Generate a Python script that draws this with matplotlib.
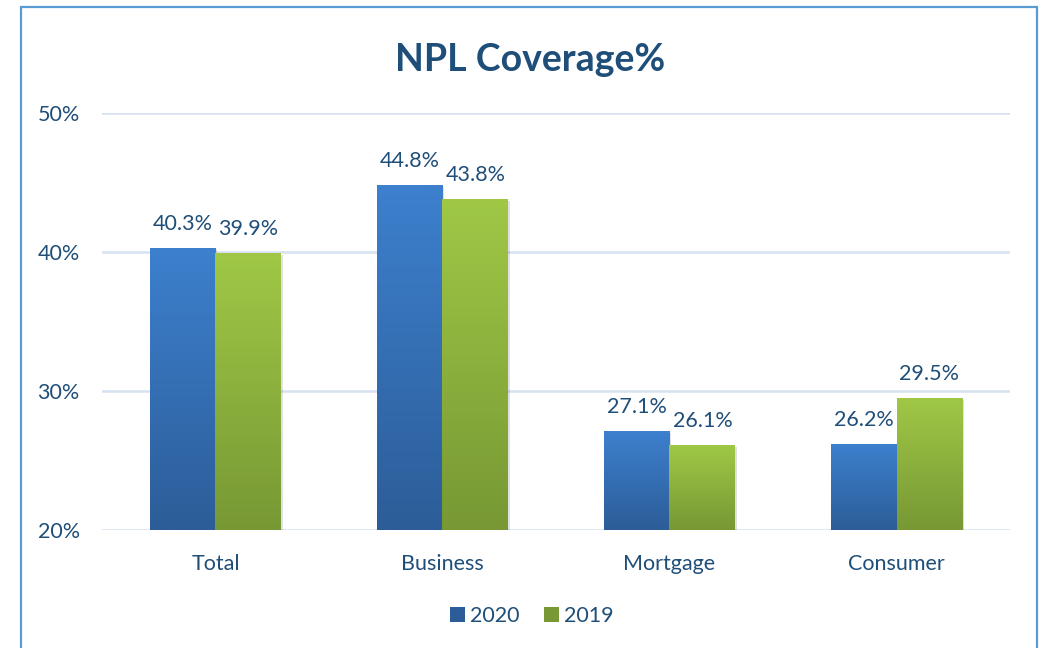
import matplotlib
matplotlib.use("Agg")
import matplotlib.pyplot as plt
import numpy as np
from matplotlib.colors import LinearSegmentedColormap
from matplotlib.patches import Rectangle, Patch

# ───────────────────────── data ───────────────────────── #
categories = ["Total", "Business", "Mortgage", "Consumer"]
series_names = ["2020", "2019"]
values_2020 = [40.3, 44.8, 27.1, 26.2]
values_2019 = [39.9, 43.8, 26.1, 29.5]
y_ticks = [20, 30, 40, 50]

TEXT = "#1F4E79"
GRID = "#D6E1F1"
BLUE_TOP, BLUE_BOT = "#3D80CE", "#2C5D98"
GREEN_TOP, GREEN_BOT = "#A0C846", "#779834"

plt.rcParams["font.family"] = ["Lato", "DejaVu Sans"]

fig = plt.figure(figsize=(10.51, 6.48), dpi=100)
ax = fig.add_axes([0.097, 0.182, 0.864, 0.644])

# outer frame (bottom edge is cut off in the reference)
fig.patches.append(Rectangle((21 / 1051, -0.05), (1037 - 21) / 1051, 1.05 - 7 / 648,
                             transform=fig.transFigure, fill=False,
                             edgecolor="#5B9BD5", linewidth=1.6))

x = np.arange(len(categories))
w = 0.29


def gradient_bars(bars, top, bot):
    cmap = LinearSegmentedColormap.from_list("g", [bot, top])
    grad = np.linspace(0, 1, 256).reshape(-1, 1)
    for b in bars:
        x0, y0 = b.get_x(), b.get_y()
        bw, bh = b.get_width(), b.get_height()
        # soft shadow
        ax.add_patch(Rectangle((x0 + 0.008, y0 - 0.12), bw, bh, color="#000000",
                               alpha=0.12, zorder=2, linewidth=0))
        im = ax.imshow(grad, extent=(x0, x0 + bw, y0, y0 + bh), origin="lower",
                       cmap=cmap, aspect="auto", zorder=3)
        im.set_clip_path(b)
        b.set_facecolor("none")


bars20 = ax.bar(x - w / 2, np.array(values_2020) - 20, w, bottom=20,
                zorder=3, linewidth=0)
bars19 = ax.bar(x + w / 2, np.array(values_2019) - 20, w, bottom=20,
                zorder=3, linewidth=0)
gradient_bars(bars20, BLUE_TOP, BLUE_BOT)
gradient_bars(bars19, GREEN_TOP, GREEN_BOT)

for xi, v in zip(x - w / 2, values_2020):
    ax.text(xi, v + 1.0, f"{v:.1f}%", ha="center", va="bottom",
            fontsize=15.5, color=TEXT)
for xi, v in zip(x + w / 2, values_2019):
    ax.text(xi, v + 1.0, f"{v:.1f}%", ha="center", va="bottom",
            fontsize=15.5, color=TEXT)

ax.set_xlim(-0.5, len(categories) - 0.5)
ax.set_ylim(20, 50)
ax.set_yticks(y_ticks)
ax.set_yticklabels([f"{t}%" for t in y_ticks])
ax.set_xticks(x)
ax.set_xticklabels(categories)
ax.tick_params(axis="both", length=0, labelsize=15.5, colors=TEXT)
ax.tick_params(axis="y", pad=16)
ax.tick_params(axis="x", pad=17)
ax.grid(axis="y", color=GRID, linewidth=1.8, zorder=0)
for s in ax.spines.values():
    s.set_visible(False)

fig.text(0.504, 0.908, "NPL Coverage%", ha="center", va="center",
         fontsize=27, fontweight="bold", color=TEXT)

handles = [Patch(facecolor=BLUE_BOT, edgecolor="none"),
           Patch(facecolor=GREEN_BOT, edgecolor="none")]
fig.legend(handles, series_names, loc="center", bbox_to_anchor=(0.506, 0.05),
           ncol=2, frameon=False, fontsize=15.5, labelcolor=TEXT,
           handlelength=0.7, handleheight=0.7, handletextpad=0.25, columnspacing=1.1)

fig.savefig("out.png", dpi=100, facecolor="white")
